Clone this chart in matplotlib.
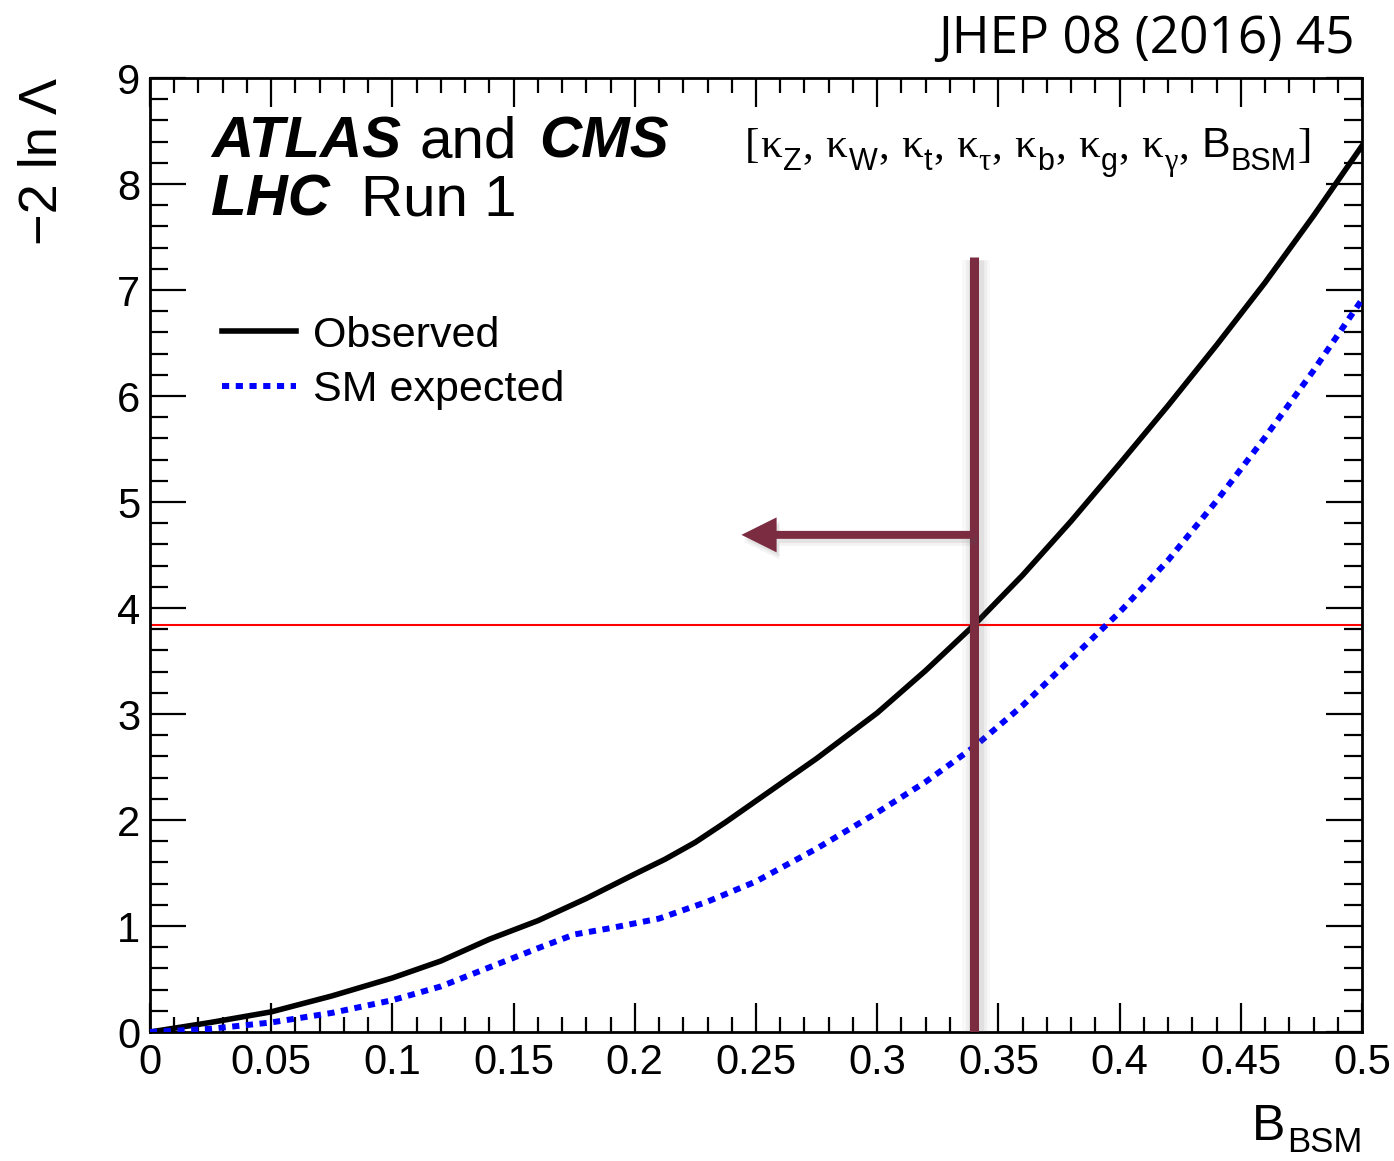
import numpy as np
import matplotlib
matplotlib.use("Agg")
import matplotlib.pyplot as plt
from matplotlib.ticker import MultipleLocator, FixedLocator, FixedFormatter
from matplotlib.patches import FancyArrow
import matplotlib.patheffects as pe

# ---- data -------------------------------------------------------------
b_obs = [0.0, 0.025, 0.05, 0.075, 0.10, 0.12, 0.14, 0.16, 0.18, 0.20,
         0.2125, 0.225, 0.2375, 0.25, 0.275, 0.30, 0.32, 0.34, 0.36, 0.38,
         0.40, 0.42, 0.44, 0.46, 0.48, 0.50]
nll_obs = [0.0, 0.09, 0.19, 0.34, 0.51, 0.67, 0.875, 1.05, 1.26, 1.49,
           1.63, 1.79, 1.98, 2.18, 2.58, 3.01, 3.41, 3.84, 4.31, 4.82,
           5.36, 5.91, 6.48, 7.07, 7.70, 8.36]

b_exp = [0.0, 0.025, 0.05, 0.075, 0.10, 0.12, 0.14, 0.16, 0.175, 0.19,
         0.21, 0.23, 0.25, 0.275, 0.30, 0.32, 0.34, 0.36, 0.38, 0.40,
         0.42, 0.44, 0.46, 0.48, 0.50]
nll_exp = [0.0, 0.03, 0.09, 0.18, 0.30, 0.43, 0.61, 0.79, 0.92, 0.98,
           1.07, 1.23, 1.42, 1.73, 2.07, 2.36, 2.69, 3.08, 3.52, 3.96,
           4.45, 5.01, 5.61, 6.24, 6.91]

threshold_95cl = 3.84      # -2 ln Lambda at 95% CL
b_limit = 0.34             # observed upper limit on B_BSM
marker_top = 7.31          # top of the limit marker
arrow_level = 4.69         # height of the exclusion arrow
arrow_tip = 0.244          # where the arrow points to

x_ticks = [0, 0.05, 0.1, 0.15, 0.2, 0.25, 0.3, 0.35, 0.4, 0.45, 0.5]
x_tick_labels = ["0", "0.05", "0.1", "0.15", "0.2", "0.25", "0.3", "0.35",
                 "0.4", "0.45", "0.5"]
y_ticks = [0, 1, 2, 3, 4, 5, 6, 7, 8, 9]
y_tick_labels = ["0", "1", "2", "3", "4", "5", "6", "7", "8", "9"]

# ---- style ------------------------------------------------------------
plt.rcParams["font.family"] = ["Liberation Sans", "DejaVu Sans"]
SANS = ["Liberation Sans", "DejaVu Sans"]
SERIF = ["Liberation Serif", "DejaVu Serif"]

W, H = 1394, 1161
fig = plt.figure(figsize=(W / 100, H / 100), dpi=100)
ax = fig.add_axes([150 / W, (H - 1032) / H, (1362 - 150) / W, (1032 - 78) / H])

maroon = "#7b2c41"

# ---- curves -----------------------------------------------------------
ax.plot(b_obs, nll_obs, color="black", lw=4.0, solid_joinstyle="round",
        label="Observed", zorder=3)
ax.plot(b_exp, nll_exp, color="#0000ff", lw=4.3, linestyle=(0, (1.2, 1.1)),
        dash_capstyle="butt", label="SM expected", zorder=3)

ax.axhline(threshold_95cl, color="#ff0000", lw=1.5, zorder=2)

# limit marker with a soft drop shadow
shadow = [pe.SimpleLineShadow(offset=(1, -2), shadow_color="0.35", alpha=0.04, linewidth=20),
          pe.SimpleLineShadow(offset=(1, -2), shadow_color="0.35", alpha=0.06, linewidth=15),
          pe.SimpleLineShadow(offset=(1, -2), shadow_color="0.35", alpha=0.09, linewidth=11),
          pe.Normal()]
ax.plot([b_limit, b_limit], [0, marker_top], color=maroon, lw=6.5,
        solid_capstyle="butt", zorder=5, path_effects=shadow)

arrow = FancyArrow(b_limit, arrow_level, arrow_tip - b_limit, 0,
                   width=0.075, head_width=0.33, head_length=0.0145,
                   length_includes_head=True, color=maroon, lw=0, zorder=5)
arrow.set_path_effects([
    pe.SimplePatchShadow(offset=(2, -5), shadow_rgbFace="0.35", alpha=0.07),
    pe.SimplePatchShadow(offset=(2, -3), shadow_rgbFace="0.35", alpha=0.10),
    pe.Normal()])
ax.add_patch(arrow)

# ---- axes -------------------------------------------------------------
ax.set_xlim(0, 0.5)
ax.set_ylim(0, 9)
ax.xaxis.set_major_locator(FixedLocator(x_ticks))
ax.xaxis.set_major_formatter(FixedFormatter(x_tick_labels))
ax.yaxis.set_major_locator(FixedLocator(y_ticks))
ax.yaxis.set_major_formatter(FixedFormatter(y_tick_labels))
ax.xaxis.set_minor_locator(MultipleLocator(0.01))
ax.yaxis.set_minor_locator(MultipleLocator(0.2))

for s in ax.spines.values():
    s.set_linewidth(2.0)
ax.tick_params(which="both", direction="in", top=True, right=True, width=1.6,
               labelsize=30)
ax.tick_params(axis="x", which="major", length=21, pad=8)
ax.tick_params(axis="x", which="minor", length=10.5)
ax.tick_params(axis="y", which="major", length=26, pad=7)
ax.tick_params(axis="y", which="minor", length=13)

ax.set_ylabel("\u22122 ln \u039b", fontsize=39, loc="top")
ax.yaxis.set_label_coords(-0.068, 1.0)

# ---- legend -----------------------------------------------------------
ax.legend(loc="upper left", bbox_to_anchor=(0.0594, 0.751), frameon=False,
          fontsize=31, handlelength=1.72, handletextpad=0.4, labelspacing=0.33,
          borderpad=0, borderaxespad=0)

# ---- composite texts --------------------------------------------------
fig.canvas.draw()
renderer = fig.canvas.get_renderer()


def text_run(xpix, ypix, pieces, align="left"):
    """Place styled pieces (text, family, size, style, weight, dy, gap)
    one after another along a baseline given in figure pixels."""
    made = []
    x = xpix
    for txt, fam, size, style, weight, dy, gap in pieces:
        t = fig.text(x / W, (ypix + dy) / H, txt, family=fam, fontsize=size,
                     style=style, weight=weight, ha="left", va="baseline")
        bb = t.get_window_extent(renderer)
        made.append(t)
        x = bb.x1 + gap
    if align == "right":
        shift = xpix - x
        for t in made:
            px, py = t.get_position()
            t.set_position((px + shift / W, py))
    return made


# experiment labels
text_run(211, H - 157, [("ATLAS", SANS, 42, "italic", "bold", 0, 19),
                        ("and", SANS, 42, "normal", "normal", 0, 22),
                        ("CMS", SANS, 42, "italic", "bold", 0, 0)])
text_run(211, H - 216, [("LHC", SANS, 42, "italic", "bold", 0, 30),
                        ("Run 1", SANS, 42, "normal", "normal", 0, 0)])

# parameter list of the fit model
M, S, D = 31, 22, -13
kappa_pieces = [("[", SERIF, M, "normal", "normal", 0, 1)]
for sub, fam in [("Z", SANS), ("W", SANS), ("t", SANS), ("\u03c4", SERIF),
                 ("b", SANS), ("g", SANS), ("\u03b3", SERIF)]:
    kappa_pieces.append(("\u03ba", SERIF, M, "normal", "normal", 0, 1))
    kappa_pieces.append((sub, fam, S, "normal", "normal", D, 1))
    kappa_pieces.append((",", SERIF, M, "normal", "normal", 0, 12))
kappa_pieces += [("B", SANS, M, "normal", "normal", 0, 1),
                 ("BSM", SANS, S, "normal", "normal", D, 0),
                 ("]", SERIF, M, "normal", "normal", 0, 0)]
text_run(745, H - 157, kappa_pieces)

# x-axis title
text_run(1362, H - 1140, [("B", SANS, 36, "normal", "normal", 0, 1),
                          ("BSM", SANS, 25, "normal", "normal", -12, 0)],
         align="right")

fig.text(1355 / W, (H - 53) / H, "JHEP 08 (2016) 45", fontsize=37,
         family=["Open Sans", "DejaVu Sans"], ha="right", va="baseline")

fig.savefig("out.png", dpi=100)
